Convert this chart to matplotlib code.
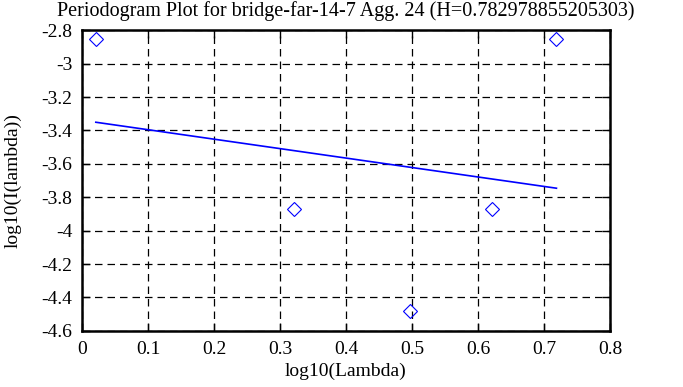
import numpy as np
import matplotlib
matplotlib.use("Agg")
from matplotlib import pyplot as plt
from matplotlib.ticker import FuncFormatter

# periodogram points (log10 lambda, log10 I)
log_lambda = [0.021, 0.321, 0.497, 0.622, 0.719]
log_I = [-2.854, -3.872, -4.483, -3.872, -2.854]

# least squares fit line, endpoints
fit_x = [0.021, 0.719]
fit_y = [-3.351, -3.746]

title = "Periodogram Plot for bridge-far-14-7 Agg. 24 (H=0.782978855205303)"
x_ticks = [0, 0.1, 0.2, 0.3, 0.4, 0.5, 0.6, 0.7, 0.8]
y_ticks = [-2.8, -3, -3.2, -3.4, -3.6, -3.8, -4, -4.2, -4.4, -4.6]

plt.rcParams['font.family'] = ['Liberation Serif', 'DejaVu Serif']
plt.rcParams['axes.unicode_minus'] = False
plt.rcParams['font.size'] = 14

fig = plt.figure(figsize=(6.83, 3.87), dpi=100)
ax = fig.add_axes([0.120, 0.145, 0.773, 0.777])

ax.plot(fit_x, fit_y, color='#0000ff', lw=1.2, zorder=3)
ax.plot(log_lambda, log_I, ls='none', marker='D', ms=7, mfc='none',
        mec='#0000ff', mew=0.8, zorder=4)

ax.set_xlim(0, 0.8)
ax.set_ylim(-4.6, -2.8)
ax.set_xticks(x_ticks)
ax.set_yticks(y_ticks)
fmt = FuncFormatter(lambda v, p: '%g' % round(v, 2))
ax.xaxis.set_major_formatter(fmt)
ax.yaxis.set_major_formatter(fmt)

ax.grid(True, color='black', ls=(0, (6, 4)), lw=0.9)
ax.tick_params(direction='in', length=6, width=1, top=True, right=True,
               labelsize=14, pad=7)
for s in ax.spines.values():
    s.set_linewidth(1.8)

ax.set_title(title, fontsize=14.5, pad=10)
ax.set_xlabel('log10(Lambda)', fontsize=14, labelpad=4)
ax.set_ylabel('log10(I(lambda))', fontsize=14, labelpad=14)

fig.savefig('out.png', dpi=100)
